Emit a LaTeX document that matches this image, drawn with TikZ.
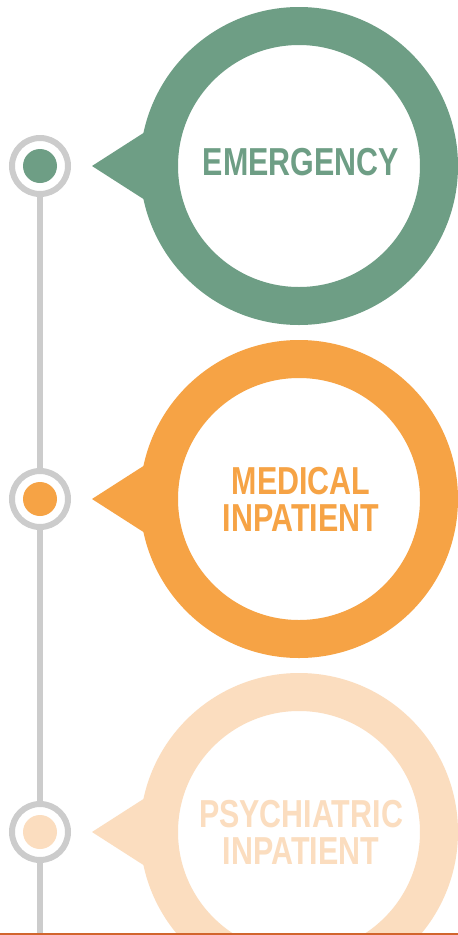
\documentclass[tikz,border=0pt]{standalone}
\usepackage{fontspec}
\usepackage{tikz}
\usetikzlibrary{calc}
\usetikzlibrary{shapes,arrows,positioning}

\newfontfamily\stagefont{Liberation Sans}[FakeStretch=0.78]
\definecolor{emergencygreen}{HTML}{6E9E85}
\definecolor{medicalorange}{HTML}{F6A345}
\definecolor{psychpeach}{HTML}{FBDDBF}
\definecolor{railgray}{HTML}{CCCCCC}
\definecolor{footerred}{HTML}{D2652D}

\begin{document}
\begin{tikzpicture}[x=1pt,y=1pt,
  ring/.style={draw=railgray, line width=6pt, circle, minimum size=56pt, inner sep=0pt},
  bubble/.style={circle, line width=38pt, minimum size=280pt, inner sep=0pt, align=center,
    font=\stagefont\bfseries\fontsize{39}{37}\selectfont}]

\clip (0,0) rectangle (458,-935);
\fill[white] (0,0) rectangle (458,-935);

\def \gap {333}
\def \rail {40}
\def \mid {299} % centre of the big rings

\def \s {1}
\def \hue {emergencygreen}
\def \stagename {EMERGENCY}
  \node[ring] (dot\s) at (\rail,{-166-\gap*(\s-1)}) {};
  \node[circle, fill=\hue, minimum size=34pt, inner sep=0pt] (pin\s) at (dot\s) {};
  \node[bubble, draw=\hue] (bubble\s) at (\mid,{-166-\gap*(\s-1)}) {};
  \fill[\hue] ($(bubble\s.center)+(-207,0)$) -- ++(68,43.6) -- ++(0,-87.2) -- cycle;
  \node[text=\hue, font=\stagefont\bfseries\fontsize{39}{37}\selectfont, align=center]
    (name\s) at ($(bubble\s.center)+(2,4)$) {\stagename};

\def \s {2}
\def \hue {medicalorange}
\def \stagename {MEDICAL\\INPATIENT}
  \node[ring] (dot\s) at (\rail,{-166-\gap*(\s-1)}) {};
  \node[circle, fill=\hue, minimum size=34pt, inner sep=0pt] (pin\s) at (dot\s) {};
  \node[bubble, draw=\hue] (bubble\s) at (\mid,{-166-\gap*(\s-1)}) {};
  \fill[\hue] ($(bubble\s.center)+(-207,0)$) -- ++(68,43.6) -- ++(0,-87.2) -- cycle;
  \node[text=\hue, font=\stagefont\bfseries\fontsize{39}{37}\selectfont, align=center]
    (name\s) at ($(bubble\s.center)+(2,0)$) {\stagename};

\def \s {3}
\def \hue {psychpeach}
\def \stagename {PSYCHIATRIC\\INPATIENT}
  \node[ring] (dot\s) at (\rail,{-166-\gap*(\s-1)}) {};
  \node[circle, fill=\hue, minimum size=34pt, inner sep=0pt] (pin\s) at (dot\s) {};
  \node[bubble, draw=\hue] (bubble\s) at (\mid,{-166-\gap*(\s-1)}) {};
  \fill[\hue] ($(bubble\s.center)+(-207,0)$) -- ++(68,43.6) -- ++(0,-87.2) -- cycle;
  \node[text=\hue, font=\stagefont\bfseries\fontsize{39}{37}\selectfont, align=center]
    (name\s) at ($(bubble\s.center)+(2,0)$) {\stagename};

% timeline rail
\coordinate (railend) at (\rail,-935);
\draw[railgray, line width=5.5pt] (dot1) -- (dot2);
\draw[railgray, line width=5.5pt] (dot2) -- (dot3);
\draw[railgray, line width=5.5pt] (dot3) -- (railend);

\coordinate (footleft) at (0,-934);
\coordinate (footright) at (458,-934);
\draw[footerred, line width=2pt] (footleft) -- (footright);

\end{tikzpicture}
\end{document}
